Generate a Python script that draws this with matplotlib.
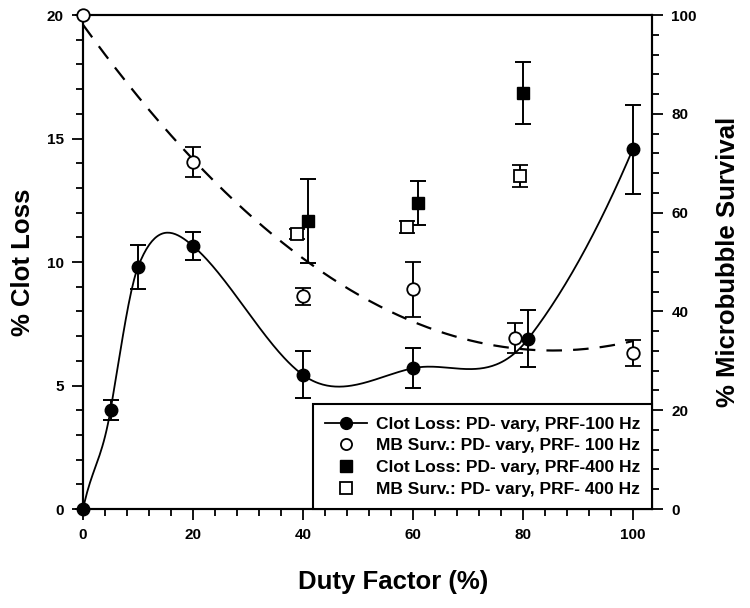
import matplotlib
matplotlib.use("Agg")
import matplotlib.pyplot as plt
import numpy as np
from matplotlib.lines import Line2D
from matplotlib.ticker import MultipleLocator

plt.rcParams["font.family"] = ["Liberation Sans", "DejaVu Sans"]
plt.rcParams["font.weight"] = "bold"

# ---------- data ----------
# Clot loss, PD vary, PRF 100 Hz (left axis, %)
clot100_x = [0, 5, 10, 20, 40, 60, 81, 100]
clot100_y = [0.0, 4.0, 9.8, 10.65, 5.43, 5.7, 6.9, 14.57]
clot100_err = [0.0, 0.4, 0.9, 0.55, 0.95, 0.8, 1.15, 1.8]

# MB survival, PD vary, PRF 100 Hz (right axis, %)
mb100_x = [0, 20, 40, 60, 78.5, 100]
mb100_y = [100.0, 70.2, 43.1, 44.5, 34.6, 31.6]
mb100_err = [0.0, 3.0, 1.7, 5.6, 3.0, 2.7]

# Clot loss, PD vary, PRF 400 Hz (left axis, %)
clot400_x = [41, 61, 80]
clot400_y = [11.66, 12.4, 16.84]
clot400_err = [1.7, 0.9, 1.25]

# MB survival, PD vary, PRF 400 Hz (right axis, %)
mb400_x = [39, 59, 79.5]
mb400_y = [55.6, 57.1, 67.4]
mb400_err = [1.0, 1.3, 2.2]

labels = [
    "Clot Loss: PD- vary, PRF-100 Hz",
    "MB Surv.: PD- vary, PRF- 100 Hz",
    "Clot Loss: PD- vary, PRF-400 Hz",
    "MB Surv.: PD- vary, PRF- 400 Hz",
]


def smooth_curve(x, y, xs, tension=1.3):
    """Cubic Hermite (Catmull-Rom style) curve through the points."""
    x = np.asarray(x, float)
    y = np.asarray(y, float)
    m = np.empty_like(y)
    m[1:-1] = (y[2:] - y[:-2]) / (x[2:] - x[:-2])
    m[0] = (y[1] - y[0]) / (x[1] - x[0])
    m[-1] = (y[-1] - y[-2]) / (x[-1] - x[-2])
    m *= tension
    i = np.clip(np.searchsorted(x, xs, side="right") - 1, 0, len(x) - 2)
    h = x[i + 1] - x[i]
    t = (xs - x[i]) / h
    h00 = 2 * t**3 - 3 * t**2 + 1
    h10 = t**3 - 2 * t**2 + t
    h01 = -2 * t**3 + 3 * t**2
    h11 = t**3 - t**2
    return h00 * y[i] + h10 * h * m[i] + h01 * y[i + 1] + h11 * h * m[i + 1]


fig = plt.figure(figsize=(7.5, 6.08), dpi=100)
ax = fig.add_axes((0.1107, 0.1628, 0.7587, 0.8125))
ax2 = ax.twinx()

# solid smooth curve through clot loss (100 Hz)
xs = np.linspace(clot100_x[0], clot100_x[-1], 400)
ax.plot(xs, smooth_curve(clot100_x, clot100_y, xs), color="black", lw=1.3, zorder=2)

# dashed quadratic regression of MB survival (100 Hz)
coef = np.polyfit(mb100_x, mb100_y, 2)
ax2.plot(xs, np.polyval(coef, xs), color="black", lw=1.6, ls=(0, (7, 5)), zorder=2)

err_kw = dict(ecolor="black", elinewidth=1.4, capsize=6, capthick=1.4, ls="none", clip_on=False)
ax.errorbar(clot100_x, clot100_y, yerr=clot100_err, marker="o", ms=9,
            mfc="black", mec="black", zorder=3, **err_kw)
ax.errorbar(clot400_x, clot400_y, yerr=clot400_err, marker="s", ms=8.5,
            mfc="black", mec="black", zorder=3, **err_kw)
ax2.errorbar(mb100_x, mb100_y, yerr=mb100_err, marker="o", ms=9,
             mfc="white", mec="black", mew=1.3, zorder=3, **err_kw)
ax2.errorbar(mb400_x, mb400_y, yerr=mb400_err, marker="s", ms=8.5,
             mfc="white", mec="black", mew=1.3, zorder=3, **err_kw)

# axes limits and ticks
ax.set_xlim(0, 103.5)
ax.set_ylim(0, 20)
ax2.set_ylim(0, 100)
ax.xaxis.set_major_locator(MultipleLocator(20))
ax.xaxis.set_minor_locator(MultipleLocator(4))
ax.yaxis.set_major_locator(MultipleLocator(5))
ax.yaxis.set_minor_locator(MultipleLocator(1))
ax2.yaxis.set_major_locator(MultipleLocator(20))
ax2.yaxis.set_minor_locator(MultipleLocator(4))

for a in (ax, ax2):
    a.tick_params(which="major", length=8, width=1.3, labelsize=11, direction="out", pad=6)
    a.tick_params(which="minor", length=5, width=1.3, direction="out")
    for s in a.spines.values():
        s.set_linewidth(1.5)
for lab in ax.get_xticklabels() + ax.get_yticklabels() + ax2.get_yticklabels():
    lab.set_fontweight("bold")

ax.set_xlabel("Duty Factor (%)", fontsize=18.5, fontweight="bold")
ax.set_ylabel("% Clot Loss", fontsize=18.5, fontweight="bold")
ax2.set_ylabel("% Microbubble Survival", fontsize=18.5, fontweight="bold")
ax.xaxis.set_label_coords(0.545, -0.148)
ax.yaxis.set_label_coords(-0.105, 0.5)
ax2.yaxis.set_label_coords(1.1336, 0.5)
for lab in (ax.xaxis.label, ax.yaxis.label, ax2.yaxis.label):
    lab.set_ha("center")
    lab.set_va("center")

# legend, anchored into the lower right corner
handles = [
    Line2D([], [], color="black", lw=1.3, marker="o", ms=8.5, mfc="black", mec="black"),
    Line2D([], [], ls="none", marker="o", ms=8, mfc="white", mec="black", mew=1.3),
    Line2D([], [], ls="none", marker="s", ms=8, mfc="black", mec="black"),
    Line2D([], [], ls="none", marker="s", ms=8, mfc="white", mec="black", mew=1.3),
]
leg = ax2.legend(handles, labels, loc="lower right", borderaxespad=0, fancybox=False,
                 framealpha=1, edgecolor="black", prop={"size": 12.5, "weight": "bold"},
                 handlelength=2.4, handletextpad=0.5, labelspacing=0.38, borderpad=0.7)
leg.get_frame().set_linewidth(1.5)
leg.set_zorder(5)

fig.savefig("out.png", dpi=100, facecolor="white")
